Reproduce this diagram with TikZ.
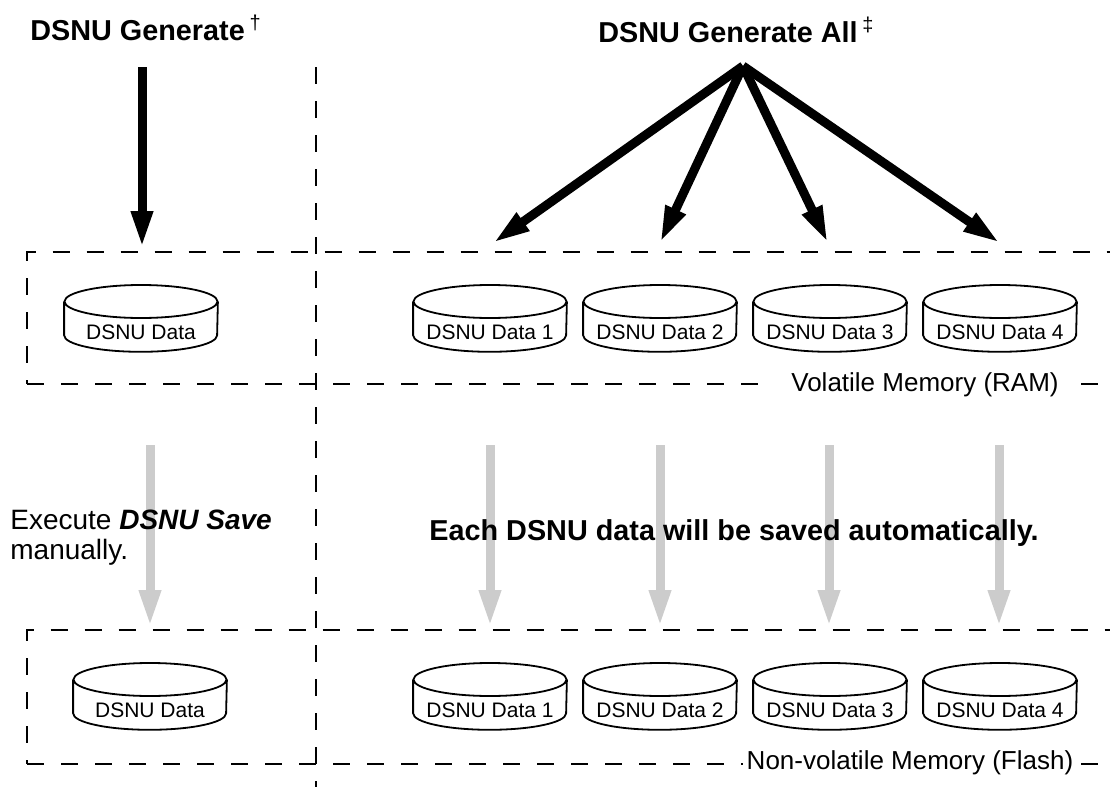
\documentclass[tikz,border=0pt]{standalone}
\usepackage{fontspec}
\setmainfont{Liberation Sans}
\usetikzlibrary{arrows.meta}

\begin{document}
\begin{tikzpicture}[x=0.5pt,y=-0.5pt,
  memline/.style={line width=1pt,dash pattern=on 8.5pt off 8.5pt},
  disk/.style={anchor=north,inner sep=0pt,minimum width=76.5pt,text height=27.25pt,text depth=5.75pt,
    font=\fontsize{10.5}{12}\selectfont,
    append after command={\pgfextra{\draw[line width=0.9pt]
      ([yshift=-8.25pt]\tikzlastnode.north west) -- ([yshift=8.25pt]\tikzlastnode.south west)
      arc[start angle=180,end angle=360,x radius=38.25pt,y radius=8.25pt]
      -- ([yshift=-8.25pt]\tikzlastnode.north east)
      ([yshift=-8.25pt]\tikzlastnode.north) ellipse [x radius=38.25pt,y radius=8.25pt];}}},
  genarrow/.style={line width=4.5pt,-{Triangle[width=10pt,length=18.5pt]}},
  savearrow/.style={line width=4.5pt,color=black!20,-{Triangle[width=10pt,length=18.5pt]}},
  title/.style={anchor=west,inner sep=0pt,font=\fontsize{14.4}{17}\selectfont\bfseries},
  memlabel/.style={fill=white,inner ysep=1pt,font=\fontsize{13}{15}\selectfont}]
\useasboundingbox (0,0) rectangle (1110,787);
% memory areas
\draw[memline,dash phase=6.25pt] (27,384) |- (1110,252);
\draw[memline] (27,384) -- (1110,384);
\draw[memline,dash phase=6.25pt] (27,764) |- (1110,630);
\draw[memline] (27,764) -- (1110,764);
\draw[memline] (316,67) -- (316,787);
\node[memlabel,inner xsep=9pt] (ram) at (925,385) {Volatile Memory (RAM)};
\node[memlabel,inner xsep=2pt] (flash) at (910,763) {Non-volatile Memory (Flash)};
% data in RAM
\node[disk] (ramA) at (141,285) {DSNU Data};
\node[disk] (ram1) at (490,285) {DSNU Data 1};
\node[disk] (ram2) at (660,285) {DSNU Data 2};
\node[disk] (ram3) at (830,285) {DSNU Data 3};
\node[disk] (ram4) at (1000,285) {DSNU Data 4};
% data in flash
\node[disk] (flashA) at (150,663) {DSNU Data};
\node[disk] (flash1) at (490,663) {DSNU Data 1};
\node[disk] (flash2) at (660,663) {DSNU Data 2};
\node[disk] (flash3) at (830,663) {DSNU Data 3};
\node[disk] (flash4) at (1000,663) {DSNU Data 4};
% generate
\coordinate (genA) at (142,67);
\coordinate (genAend) at (142,248);
\coordinate (fan) at (743,66);
\coordinate (fan1) at (493,243);
\coordinate (fan2) at (660,243);
\coordinate (fan3) at (828,243);
\coordinate (fan4) at (1000,243);
\draw[genarrow] (genA) -- (genAend);
\draw[genarrow] (fan) -- (fan1);
\draw[genarrow] (fan) -- (fan2);
\draw[genarrow] (fan) -- (fan3);
\draw[genarrow] (fan) -- (fan4);
% save
\coordinate (saveA) at (150,445);
\coordinate (saveAend) at (150,627);
\coordinate (save1) at (490,445);
\coordinate (save1end) at (490,627);
\coordinate (save2) at (660,445);
\coordinate (save2end) at (660,627);
\coordinate (save3) at (829,445);
\coordinate (save3end) at (829,627);
\coordinate (save4) at (999,445);
\coordinate (save4end) at (999,627);
\draw[savearrow] (saveA) -- (saveAend);
\draw[savearrow] (save1) -- (save1end);
\draw[savearrow] (save2) -- (save2end);
\draw[savearrow] (save3) -- (save3end);
\draw[savearrow] (save4) -- (save4end);
% texts
\node[title] (genone) at (30,28) {DSNU Generate\,\textsuperscript{\mdseries †}};
\node[title] (genall) at (598,30) {DSNU Generate All\,\textsuperscript{\mdseries ‡}};
\node[title] (auto) at (429,533) {Each DSNU data will be saved automatically.};
\node[anchor=west,align=left,inner sep=0pt,font=\fontsize{14}{15}\selectfont] (manual) at (10,538)
  {Execute \textbf{\textit{DSNU Save}}\\manually.};
\end{tikzpicture}
\end{document}
